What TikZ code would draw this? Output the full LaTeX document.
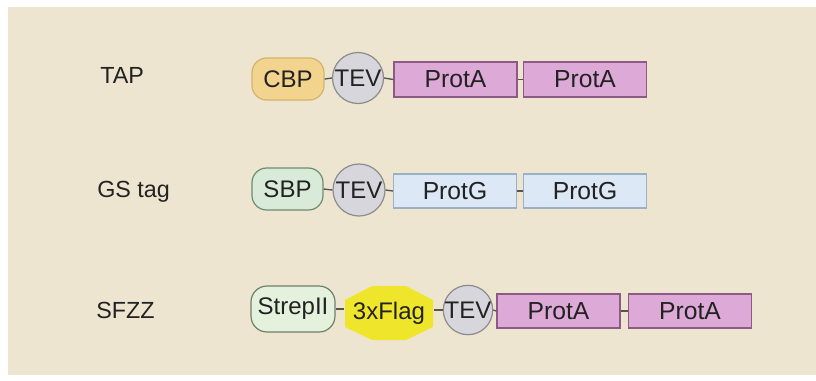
\documentclass[tikz,border=0pt]{standalone}
\usepackage{fontspec}
\setmainfont{Liberation Sans}
\definecolor{bgc}{HTML}{EEE5D0}
\definecolor{cbpf}{HTML}{F3D48E}
\definecolor{cbpd}{HTML}{D4B46A}
\definecolor{tevf}{HTML}{D6D6DC}
\definecolor{tevd}{HTML}{8C8C8C}
\definecolor{protaf}{HTML}{DDAAD8}
\definecolor{protad}{HTML}{8C5A84}
\definecolor{sbpf}{HTML}{D8EBD8}
\definecolor{sbpd}{HTML}{6F8B6F}
\definecolor{protgf}{HTML}{DCE8F5}
\definecolor{protgd}{HTML}{9BB0C5}
\definecolor{strepf}{HTML}{E4F1DC}
\definecolor{strepd}{HTML}{6F806A}
\definecolor{flagf}{HTML}{EFE52B}
\definecolor{linkc}{HTML}{555555}
\definecolor{txt}{HTML}{222222}
\tikzset{
  px/.style={x=0.75pt,y=-0.75pt},
  dombox/.style={inner sep=0pt,text=txt,font=\fontsize{18}{18}\selectfont,line width=0.9pt},
  pill/.style={dombox,rectangle,rounded corners=11pt},
  tevbox/.style={dombox,circle,fill=tevf,draw=tevd,minimum size=#1*0.75pt},
  protbox/.style={dombox,rectangle,minimum width=123*0.75pt,font=\fontsize{18.5}{18.5}\selectfont},
  rowlabel/.style={anchor=base west,inner sep=0pt,text=txt,font=\fontsize{17.5}{17.5}\selectfont},
  link/.style={draw=linkc,line width=1pt},
}
\begin{document}
\begin{tikzpicture}[px]
\useasboundingbox (0,0) rectangle (816,380);
\fill[white] (0,0) rectangle (816,380);
\fill[bgc] (8,7) rectangle (816,375);

% labels
\node[rowlabel] (lab1) at (100,83) {TAP};
\node[rowlabel] (lab2) at (97,197) {GS tag};
\node[rowlabel] (lab3) at (96,318) {SFZZ};

% row 1
\node[pill,fill=cbpf,draw=cbpd,minimum width=72*0.75pt,minimum height=42*0.75pt] (cbp) at (288,79) {CBP};
\node[tevbox=51] (tev1) at (358,78) {TEV};
\node[protbox,fill=protaf,draw=protad,minimum height=35*0.75pt] (pa11) at (455.5,79.5) {ProtA};
\node[protbox,fill=protaf,draw=protad,minimum height=35*0.75pt] (pa12) at (585,79.5) {ProtA};
\draw[link] (cbp.east) -- (tev1.west);
\draw[link] (tev1.east) -- (pa11.west);
\draw[link] (pa11.east) -- (pa12.west);

% row 2
\node[pill,fill=sbpf,draw=sbpd,minimum width=71*0.75pt,minimum height=42*0.75pt] (sbp) at (287.5,189) {SBP};
\node[tevbox=52] (tev2) at (359,190) {TEV};
\node[protbox,fill=protgf,draw=protgd,minimum height=34*0.75pt] (pg1) at (455,191) {ProtG};
\node[protbox,fill=protgf,draw=protgd,minimum height=34*0.75pt] (pg2) at (585,191) {ProtG};
\draw[link] (sbp.east) -- (tev2.west);
\draw[link] (tev2.east) -- (pg1.west);
\draw[link] (pg1.east) -- (pg2.west);

% row 3
\node[pill,fill=strepf,draw=strepd,minimum width=84*0.75pt,minimum height=46*0.75pt,rounded corners=12pt] (strep) at (293,309) {StrepII};
\fill[flagf] (345,300) -- (372,286) -- (406,286) -- (433,300) -- (433,327) -- (406,340) -- (372,340) -- (345,327) -- cycle;
\node[dombox,minimum width=88*0.75pt,minimum height=54*0.75pt] (flag) at (389,313) {3xFlag};
\node[tevbox=49] (tev3) at (468,310) {TEV};
\node[protbox,fill=protaf,draw=protad,minimum height=34*0.75pt] (pa31) at (558.5,311) {ProtA};
\node[protbox,fill=protaf,draw=protad,minimum height=34*0.75pt] (pa32) at (690,311) {ProtA};
\draw[link] (strep.east) -- (flag.west |- strep.east);
\draw[link] (flag.east |- tev3.west) -- (tev3.west);
\draw[link] (tev3.east) -- (pa31.west);
\draw[link] (pa31.east) -- (pa32.west);
\end{tikzpicture}
\end{document}
